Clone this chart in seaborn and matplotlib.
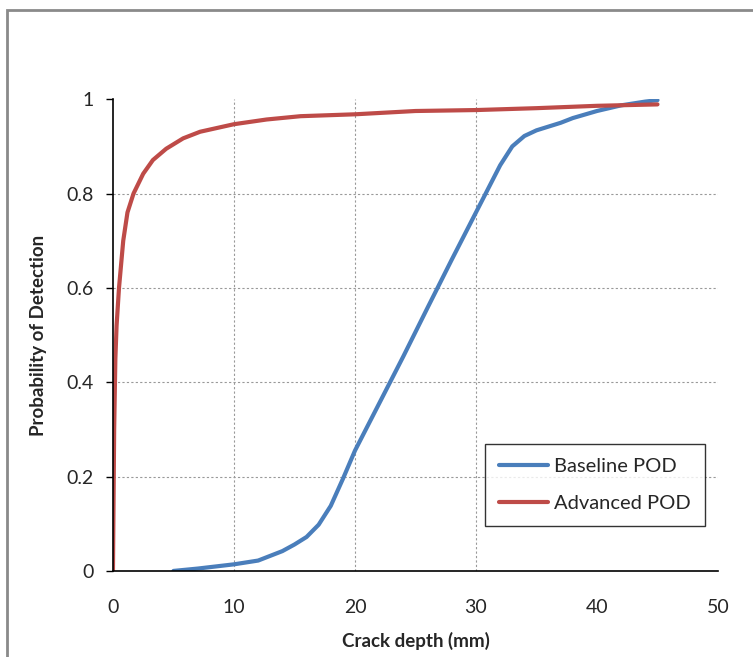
import numpy as np
import pandas as pd
import matplotlib
matplotlib.use("Agg")
import matplotlib.pyplot as plt
import seaborn as sns
from matplotlib.patches import Rectangle

# ── Data ──
baseline_depth = [5, 7, 10, 12, 14, 15, 16, 17, 18, 19, 20, 22, 24, 26, 28, 30,
                  31, 32, 33, 34, 35, 36, 37, 38, 40, 42, 44, 45]
baseline_pod = [0.0, 0.005, 0.014, 0.022, 0.042, 0.056, 0.072, 0.098, 0.138, 0.195, 0.255,
                0.355, 0.455, 0.558, 0.66, 0.76, 0.81, 0.86, 0.9, 0.922, 0.934, 0.942,
                0.95, 0.96, 0.975, 0.987, 0.995, 0.998]

advanced_depth = [0, 0.1, 0.2, 0.3, 0.5, 0.85, 1.2, 1.7, 2.5, 3.3, 4.4, 5.8, 7.2, 10,
                  12.7, 15.5, 20, 25, 30, 35, 40, 45]
advanced_pod = [0.0, 0.3, 0.45, 0.52, 0.6, 0.7, 0.76, 0.8, 0.842, 0.871, 0.895, 0.917,
                0.931, 0.947, 0.957, 0.964, 0.968, 0.975, 0.977, 0.981, 0.986, 0.989]

series_names = ["Baseline POD", "Advanced POD"]
series_colors = ["#4A7EBB", "#BE4B48"]

df = pd.concat([
    pd.DataFrame({"depth": baseline_depth, "pod": baseline_pod, "series": series_names[0]}),
    pd.DataFrame({"depth": advanced_depth, "pod": advanced_pod, "series": series_names[1]}),
])

sns.set_style("white")
plt.rcParams["font.family"] = ["Lato", "DejaVu Sans"]

fig = plt.figure(figsize=(7.53, 6.57), dpi=100)
ax = fig.add_axes([0.150, 0.131, 0.8035, 0.718])

sns.lineplot(data=df, x="depth", y="pod", hue="series", palette=series_colors,
             hue_order=series_names, linewidth=3.0, sort=False, ax=ax)

ax.set_xlim(0, 50)
ax.set_ylim(0, 1)
ax.set_xticks(np.arange(0, 51, 10))
ax.set_yticks(np.arange(0, 1.01, 0.2))
ax.set_yticklabels(["0", "0.2", "0.4", "0.6", "0.8", "1"])
ax.tick_params(axis="x", length=0, pad=20, labelsize=14)
ax.tick_params(axis="y", length=5, width=1, color="black", pad=9, labelsize=14, left=True)

# dotted gridlines, Excel-like (only interior ones as in the original)
ax.grid(True, linestyle=(0, (2, 2)), color="#999999", linewidth=0.8)
for tick, line in zip(ax.get_xticks(), ax.xaxis.get_gridlines()):
    if tick in (0, 40, 50):
        line.set_visible(False)
for tick, line in zip(ax.get_yticks(), ax.yaxis.get_gridlines()):
    if tick < 0.1 or tick > 0.9:
        line.set_visible(False)

for side in ["top", "right"]:
    ax.spines[side].set_visible(False)
for side in ["left", "bottom"]:
    ax.spines[side].set_color("black")
    ax.spines[side].set_linewidth(1.2)

ax.set_xlabel("Crack depth (mm)", fontsize=13.5, fontweight="bold", labelpad=12)
ax.set_ylabel("Probability of Detection", fontsize=13.5, fontweight="bold", labelpad=14)

leg = ax.legend(loc="lower right", bbox_to_anchor=(0.978, 0.095), fontsize=14.5,
                frameon=True, fancybox=False, handlelength=2.4, handletextpad=0.3,
                borderpad=0.7, labelspacing=1.0, borderaxespad=0)
leg.get_frame().set_edgecolor("black")
leg.get_frame().set_linewidth(1.0)
for h in leg.get_lines():
    h.set_linewidth(3.0)

# grey outer chart border
fig.patches.append(Rectangle((7 / 753, -0.05), 1.2, 1 - 10 / 657 + 0.05,
                             transform=fig.transFigure, fill=False,
                             edgecolor="#8a8a8a", linewidth=2))

fig.savefig("out.png", dpi=100)
